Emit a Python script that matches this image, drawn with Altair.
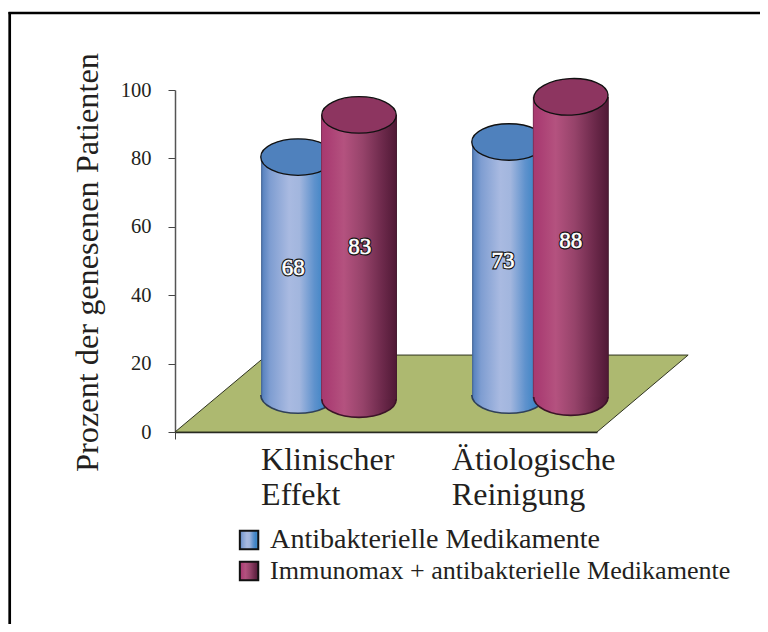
import altair as alt
import pandas as pd

# --- values (y in axis units, x in floor units 0-100) ---
groups = ["Klinischer\nEffekt", "Ätiologische\nReinigung"]
group_x = [20.4, 65.6]
group_y = [-11.1, -11.1]
series = ["Antibakterielle Medikamente", "Immunomax + antibakterielle Medikamente"]
y_ticks = [0, 20, 40, 60, 80, 100]

blue_x = [20.4, 70.4]
blue_x2 = [37.9, 87.9]
blue_top = [80.4, 84.8]
blue_bottom = [10.8, 10.8]
blue_tilt = [0, 0]
purple_x = [34.6, 84.8]
purple_x2 = [52.6, 102.8]
purple_top = [92.7, 98.0]
purple_bottom = [9.6, 10.2]
purple_tilt = [0, 357]

labels = ["68", "83", "73", "88"]
label_x = [28.0, 43.8, 77.7, 93.8]
label_y = [48.0, 54.1, 50.0, 55.8]

floor_x = [0, 21.8, 100, 121.6]
floor_top = [0, 22.5, 22.5, 22.5]
floor_base = [0, 0, 0, 22.5]
edge_x = [0, 21.8, 121.6, 100, 0]
edge_y = [0, 22.5, 22.5, 0, 0]

FONT = "Liberation Serif"
INK = "#231f20"


def grad(stops):
    s = ",".join("{offset:%s,color:'%s'}" % (o, c) for o, c in stops)
    return {"expr": "{gradient:'linear',x1:0,y1:0,x2:1,y2:0,stops:[%s]}" % s}


blue_grad = grad([(0, "#3c5c8c"), (0.025, "#5a84c0"), (0.12, "#7e9dd1"), (0.38, "#a9bae1"),
                  (0.52, "#a2b6de"), (0.72, "#5f92cd"), (0.85, "#3f85c5"), (1, "#3f85c5")])
purple_grad = grad([(0, "#6e2a4c"), (0.02, "#a83a70"), (0.1, "#ab3f74"), (0.3, "#b4527f"),
                    (0.55, "#96436a"), (0.8, "#6e2a4c"), (0.98, "#521a37"), (1, "#3c1428")])

x_scale = alt.Scale(domain=[0, 100], nice=False, zero=False)
y_scale = alt.Scale(domain=[0, 100], nice=False)
color = alt.Color(
    "series:N",
    scale=alt.Scale(domain=series, range=[blue_grad, purple_grad]),
    legend=alt.Legend(
        title=None, orient="none", legendX=61, legendY=437,
        symbolType="square", symbolSize=340, symbolStrokeColor="#111111",
        symbolStrokeWidth=2, symbolOpacity=1, rowPadding=2, labelFont=FONT,
        labelFontSize={"expr": "datum.value == 'Antibakterielle Medikamente' ? 28.1 : 26.1"},
        labelColor=INK, labelLimit=600, labelOffset=8,
    ),
)

x_axis = alt.Axis(
    values=[0], labels=False, title=None, grid=False, tickSize=7,
    domainColor="#222222", tickColor="#444444", domainWidth=1.5)
y_axis = alt.Axis(
    values=y_ticks, grid=False, title="Prozent der genesenen Patienten",
    titleFont=FONT, titleFontSize=32.3, titleFontWeight="normal", titleColor=INK,
    titleX=-78, titleY=172, titleAngle=270, titleAlign="center", titleBaseline="alphabetic",
    labelFont=FONT, labelFontSize=20.5, labelColor=INK, labelPadding=17,
    tickSize=7, tickColor="#444444", domainColor="#555555", domainWidth=1.5,
)


def X(field):
    return alt.X(field, scale=x_scale, axis=x_axis)


def Y(field):
    return alt.Y(field, scale=y_scale, axis=y_axis)


floor_df = pd.DataFrame({"x": floor_x, "y": floor_top, "y2": floor_base})
floor = alt.Chart(floor_df).mark_area(color="#adb970", opacity=1).encode(X("x:Q"), Y("y:Q"), y2="y2:Q")
edge_df = pd.DataFrame({"x": edge_x, "y": edge_y, "o": range(len(edge_x))})
edge = alt.Chart(edge_df).mark_line(color="#2f3320", strokeWidth=1).encode(
    X("x:Q"), Y("y:Q"), order="o:Q")

ELLIPSE = ("M-1,0 C-1,-0.27 -0.55,-0.49 0,-0.49 C0.55,-0.49 1,-0.27 1,0 "
           "C1,0.27 0.55,0.49 0,0.49 C-0.55,0.49 -1,0.27 -1,0 Z")
LOWER = "M-1,0 C-1,0.27 -0.55,0.49 0,0.49 C0.55,0.49 1,0.27 1,0"


def cylinder(name, xs, xs2, tops, bottoms, tilts, top_fill, edge_col):
    df = pd.DataFrame({"x": xs, "x2": xs2, "top": tops, "bottom": bottoms, "tilt": tilts})
    df["series"] = name
    df["cx"] = (df["x"] + df["x2"]) / 2
    df["overlap"] = df["bottom"] - 0.4
    base = alt.Chart(df)
    body = base.mark_rect().encode(
        X("x:Q"), x2="x2:Q", y=Y("top:Q"), y2="overlap:Q", color=color)
    low = base.mark_point(shape=LOWER, size=5550, filled=True, opacity=1, stroke=edge_col,
                          strokeWidth=1.6).encode(
        X("cx:Q"), Y("bottom:Q"), color=color)
    top = base.mark_point(shape=ELLIPSE, size=5550, filled=True, opacity=1, fill=top_fill,
                          stroke="#111111", strokeWidth=1.3).encode(
        X("cx:Q"), Y("top:Q"), angle=alt.Angle("tilt:Q", scale=None))
    return [body, low, top]


blue_layers = cylinder(series[0], blue_x, blue_x2, blue_top, blue_bottom, blue_tilt, "#4f81bd", "#2f4058")
purple_layers = cylinder(series[1], purple_x, purple_x2, purple_top, purple_bottom, purple_tilt, "#8d3560", "#3c1428")

lab_df = pd.DataFrame({"x": label_x, "y": label_y, "t": labels})
lab_out = alt.Chart(lab_df).mark_text(font=FONT, fontSize=23, stroke="#111111",
                                      strokeWidth=2.8, fill="#111111", baseline="middle").encode(
    X("x:Q"), Y("y:Q"), text="t:N")
lab_in = alt.Chart(lab_df).mark_text(font=FONT, fontSize=23, fill="#ffffff", stroke="#ffffff",
                                     strokeWidth=0.6, baseline="middle").encode(
    X("x:Q"), Y("y:Q"), text="t:N")

cat_df = pd.DataFrame({"x": group_x, "y": group_y, "t": groups})
cats = alt.Chart(cat_df).mark_text(font=FONT, fontSize=32, color=INK, align="left",
                                   baseline="alphabetic", lineBreak="\n", lineHeight=35).encode(
    X("x:Q"), Y("y:Q"), text="t:N")

frame_top = alt.Chart(pd.DataFrame({"a": [0]})).mark_rule(color="#000000", strokeWidth=2.5).encode(
    x=alt.value(-166.5), x2=alt.value(593), y=alt.value(-77))
frame_left = alt.Chart(pd.DataFrame({"a": [0]})).mark_rule(color="#000000", strokeWidth=2.7).encode(
    x=alt.value(-165.3), y=alt.value(-78), y2=alt.value(542))

chart = alt.layer(
    frame_top, frame_left, floor, edge, *blue_layers, *purple_layers, lab_out, lab_in, cats
).properties(
    width=422, height=342,
    padding={"left": 167, "top": 82, "right": 163, "bottom": 192},
    autosize=alt.AutoSizeParams(type="none"),
    background="#ffffff",
).configure_view(stroke=None)

chart.save("out.html", embed_options={"renderer": "svg", "actions": False})
